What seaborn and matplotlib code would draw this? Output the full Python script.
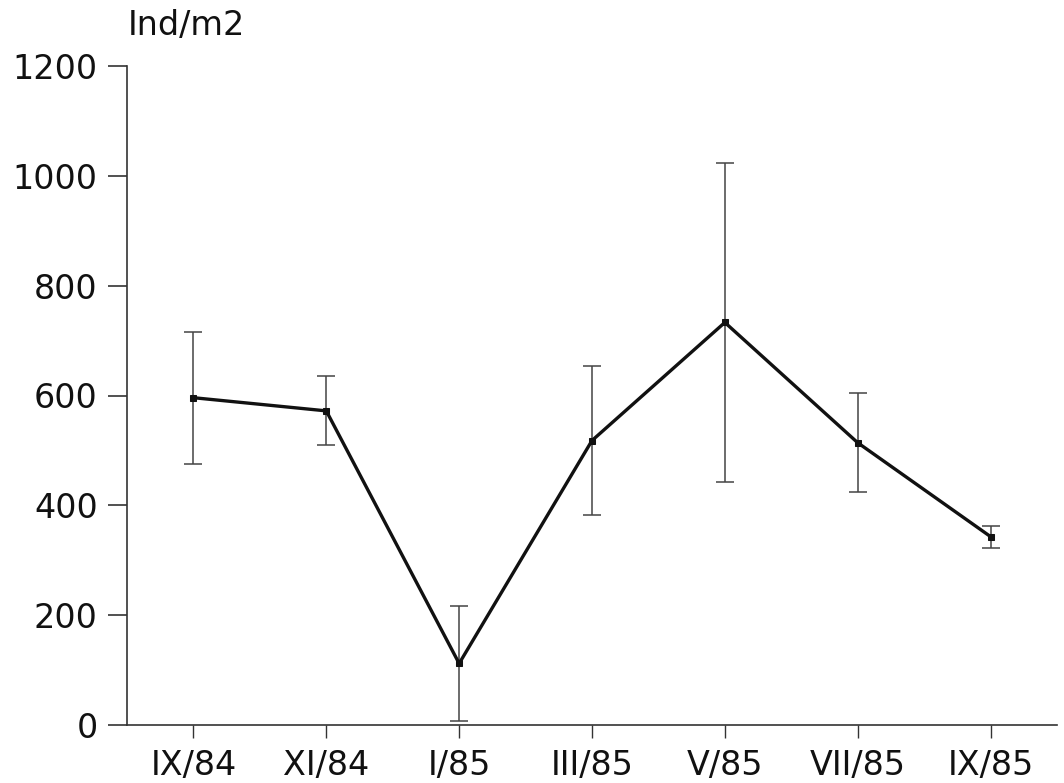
import numpy as np
import pandas as pd
import matplotlib
matplotlib.use("Agg")
import matplotlib.pyplot as plt
import seaborn as sns

categories = ["IX/84", "XI/84", "I/85", "III/85", "V/85", "VII/85", "IX/85"]
means = [596, 572, 112, 518, 733, 514, 343]
sds = [120, 63, 105, 136, 290, 90, 20]
y_ticks = [0, 200, 400, 600, 800, 1000, 1200]
y_label = "Ind/m2"

sns.set_style("ticks")
plt.rcParams["font.family"] = ["DejaVu Sans"]

df = pd.DataFrame({"pos": np.arange(len(categories)), "mean": means, "sd": sds,
                   "cat": categories})

fig = plt.figure(figsize=(10.64, 7.83), dpi=100)
ax = fig.add_axes([127 / 1064, 1 - 725 / 783, 930 / 1064, 659 / 783])

ax.errorbar(df["pos"], df["mean"], yerr=df["sd"], fmt="none", ecolor="#444444",
            elinewidth=1.1, capsize=6.5, capthick=1.1, zorder=2)
sns.lineplot(data=df, x="pos", y="mean", sort=False, color="#111111", linewidth=2.4,
             marker="s", markersize=5, markeredgecolor="#111111", ax=ax, zorder=3)

ax.set_xlim(-0.5, 6.5)
ax.set_ylim(0, 1200)
ax.set_xticks(df["pos"])
ax.set_xticklabels(categories)
ax.set_yticks(y_ticks)
ax.set_yticklabels([str(v) for v in y_ticks])
ax.set_xlabel("")
ax.set_ylabel("")
for s in ["top", "right"]:
    ax.spines[s].set_visible(False)
for s in ["left", "bottom"]:
    ax.spines[s].set_color("#333333")
    ax.spines[s].set_linewidth(1.2)
ax.tick_params(axis="y", length=14, width=1.2, color="#333333", pad=7,
               labelsize=24, labelcolor="#111111")
ax.tick_params(axis="x", length=9.5, width=1.0, color="#333333", pad=8,
               labelsize=24, labelcolor="#111111")

fig.text(128 / 1064, 1 - 35 / 783, y_label, ha="left", va="baseline",
         fontsize=24, color="#111111")

fig.savefig("out.png", dpi=100, facecolor="white")
